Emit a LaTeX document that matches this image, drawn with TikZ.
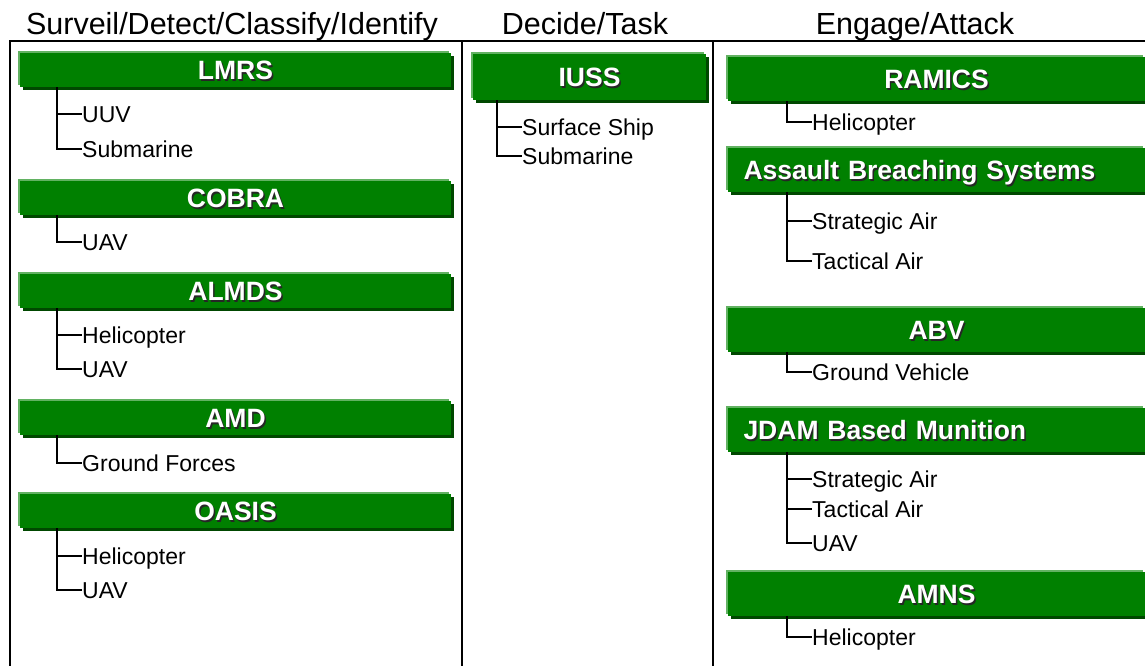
\documentclass[tikz,border=0pt]{standalone}
\usepackage{fontspec}
\setmainfont{Liberation Sans}
\usetikzlibrary{shadows}

\definecolor{barGreen}{RGB}{0,128,0}
\definecolor{barLight}{RGB}{98,178,98}
\definecolor{barDark}{RGB}{0,72,0}

% white bar text with a dark drop shadow
\newcommand{\embossed}[1]{\makebox[0pt][l]{\kern1.5pt\raisebox{-1.5pt}{\color{black!85}#1}}{\color{white}#1}}

\begin{document}
\begin{tikzpicture}[x=1pt, y=-1pt,
	colHead/.style={font=\fontsize{30.5}{36}\selectfont, text height=21.8pt, text depth=0pt, inner sep=0pt},
	greenBar/.style={fill=barGreen, inner sep=0pt, text height=19pt, text depth=0pt,
		font=\fontsize{26.5}{30}\selectfont\bfseries,
		general shadow={shadow xshift=2.5pt, shadow yshift=-2.5pt, fill=barDark},
		general shadow={shadow xshift=-2pt, shadow yshift=2pt, fill=barLight}},
	leftBar/.style={greenBar, minimum width=431pt, minimum height=34pt},
	midBar/.style={greenBar, minimum width=233pt, minimum height=46pt},
	rightBar/.style={greenBar, minimum width=417pt, minimum height=44pt},
	flushText/.style={text width=386pt, align=left},
	childLabel/.style={anchor=west, inner sep=0pt, text height=16.5pt, text depth=0pt, font=\fontsize{23}{27}\selectfont},
	treeLine/.style={line width=2pt}]
				
				\useasboundingbox (0,0) rectangle (1145,665);
				
				% column headings
				\draw (232,24) node[colHead] (hSurveil) {Surveil/Detect/Classify/Identify};
				\draw (585,24) node[colHead] (hDecide) {Decide/Task};
				\draw (915,24) node[colHead] (hEngage) {Engage/Attack};
				
				% draw the frame
				\draw[line width=2pt] (1150,41) -- (10,41) -- (10,670);
				\foreach \x in {462,713}
				\draw[line width=2pt] (\x,41) -- (\x,670);
				
				% left column
				\draw (235.5,70) node[leftBar] (lmrs) {\embossed{LMRS}};
				\draw (82,114) node[childLabel] (lmrsUuv) {UUV};
				\draw (82,149) node[childLabel] (lmrsSub) {Submarine};
				\draw[treeLine] (lmrs.south west) ++(37,0) |- (lmrsUuv.west) (lmrs.south west) ++(37,0) |- (lmrsSub.west);
				
				\draw (235.5,198) node[leftBar] (cobra) {\embossed{COBRA}};
				\draw (82,242) node[childLabel] (cobraUav) {UAV};
				\draw[treeLine] (cobra.south west) ++(37,0) |- (cobraUav.west);
				
				\draw (235.5,291) node[leftBar] (almds) {\embossed{ALMDS}};
				\draw (82,335) node[childLabel] (almdsHelo) {Helicopter};
				\draw (82,369) node[childLabel] (almdsUav) {UAV};
				\draw[treeLine] (almds.south west) ++(37,0) |- (almdsHelo.west) (almds.south west) ++(37,0) |- (almdsUav.west);
				
				\draw (235.5,418) node[leftBar] (amd) {\embossed{AMD}};
				\draw (82,463) node[childLabel] (amdGround) {Ground Forces};
				\draw[treeLine] (amd.south west) ++(37,0) |- (amdGround.west);
				
				\draw (235.5,511) node[leftBar] (oasis) {\embossed{OASIS}};
				\draw (82,556) node[childLabel] (oasisHelo) {Helicopter};
				\draw (82,590) node[childLabel] (oasisUav) {UAV};
				\draw[treeLine] (oasis.south west) ++(37,0) |- (oasisHelo.west) (oasis.south west) ++(37,0) |- (oasisUav.west);
				
				% middle column
				\draw (589.5,77) node[midBar] (iuss) {\embossed{IUSS}};
				\draw (522,127) node[childLabel] (iussShip) {Surface Ship};
				\draw (522,156) node[childLabel] (iussSub) {Submarine};
				\draw[treeLine] (iuss.south west) ++(24,0) |- (iussShip.west) (iuss.south west) ++(24,0) |- (iussSub.west);
				
				% right column
				\draw (936.5,79) node[rightBar] (ramics) {\embossed{RAMICS}};
				\draw (812,122) node[childLabel] (ramicsHelo) {Helicopter};
				\draw[treeLine] (ramics.south west) ++(59,0) |- (ramicsHelo.west);
				
				\draw (936.5,170) node[rightBar, flushText] (abs) {\embossed{Assault Breaching Systems}};
				\draw (812,221) node[childLabel] (absStrat) {Strategic Air};
				\draw (812,261) node[childLabel] (absTac) {Tactical Air};
				\draw[treeLine] (abs.south west) ++(59,0) |- (absStrat.west) (abs.south west) ++(59,0) |- (absTac.west);
				
				\draw (936.5,330) node[rightBar] (abv) {\embossed{ABV}};
				\draw (812,372) node[childLabel] (abvGround) {Ground Vehicle};
				\draw[treeLine] (abv.south west) ++(59,0) |- (abvGround.west);
				
				\draw (936.5,430) node[rightBar, flushText] (jdam) {\embossed{JDAM Based Munition}};
				\draw (812,479) node[childLabel] (jdamStrat) {Strategic Air};
				\draw (812,509) node[childLabel] (jdamTac) {Tactical Air};
				\draw (812,543) node[childLabel] (jdamUav) {UAV};
				\draw[treeLine] (jdam.south west) ++(59,0) |- (jdamStrat.west) (jdam.south west) ++(59,0) |- (jdamTac.west) (jdam.south west) ++(59,0) |- (jdamUav.west);
				
				\draw (936.5,594) node[rightBar] (amns) {\embossed{AMNS}};
				\draw (812,637) node[childLabel] (amnsHelo) {Helicopter};
				\draw[treeLine] (amns.south west) ++(59,0) |- (amnsHelo.west);
\end{tikzpicture}
\end{document}
